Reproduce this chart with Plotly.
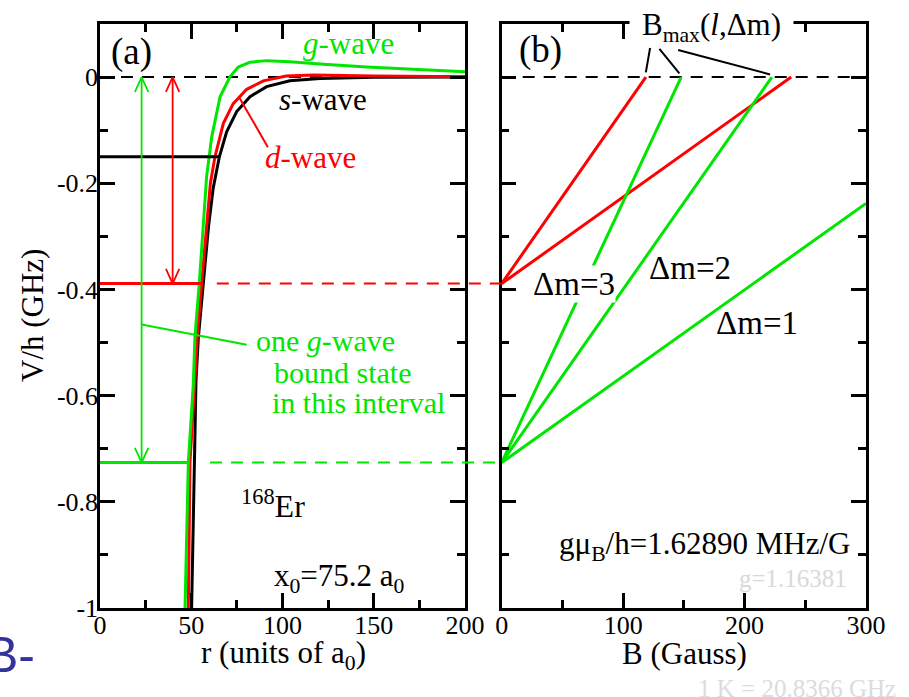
import plotly.graph_objects as go

W, H = 909, 697
SERIF = "Liberation Serif"
GREEN = "#00e600"
RED = "#ff0000"
BLACK = "#000000"

# ---------------- panel (a): potentials V(r) ----------------
r_s = [50.2, 51.3, 52.6, 53.9, 56.6, 59.5, 62.0, 65.4, 69.4, 74.9, 82.2, 91.3, 104.0, 120.5, 150.0, 200.0]
v_s = [-1.0, -0.80, -0.572, -0.49, -0.389, -0.28, -0.21, -0.15, -0.103, -0.065, -0.037, -0.018, -0.007, -0.0025, -0.0005, 0.0]

r_d = [48.4, 49.3, 52.0, 53.3, 55.7, 58.5, 60.5, 63.0, 67.6, 73.0, 80.4, 89.5, 102.0, 117.0, 150.0, 200.0]
v_d = [-1.0, -0.726, -0.572, -0.49, -0.389, -0.27, -0.20, -0.15, -0.087, -0.05, -0.023, -0.007, 0.002, 0.004, 0.002, 0.0005]

r_g = [46.6, 48.4, 51.1, 52.0, 54.4, 56.5, 58.4, 61.2, 65.8, 71.2, 75.8, 82.2, 91.3, 104.0, 120.5, 146.0, 200.0]
v_g = [-1.0, -0.726, -0.58, -0.49, -0.389, -0.28, -0.188, -0.113, -0.037, 0.0006, 0.019, 0.028, 0.031, 0.029, 0.0245, 0.019, 0.010]

# last bound levels (GHz) and where their solid segments meet the potential walls
level_s, level_d, level_g = -0.150, -0.389, -0.726
wall_s, wall_d, wall_g = 65.4, 55.7, 48.4
dash_start_d, dash_start_g = 64.0, 60.3
arrow_r_g, arrow_r_d = 22.8, 39.8

# ---------------- panel (b): Zeeman-shifted levels ----------------
bmax_red = [118.7, 238.4]      # d-wave level reaching threshold
bmax_green = [147.8, 222.5]    # g-wave level reaching threshold
green_dm1_end = (300.0, -0.238)

r_ticks = [0, 50, 100, 150, 200]
r_ticktext = ["0", "50", "100", "150", "200"]
b_ticks = [0, 100, 200, 300]
b_ticktext = ["0", "100", "200", "300"]
v_ticks = [0, -0.2, -0.4, -0.6, -0.8, -1.0]
v_ticktext = ["0", "-0.2", "-0.4", "-0.6", "-0.8", "-1"]

# layout geometry
dom_a = [100 / W, 465 / W]
dom_b = [501.7 / W, 866 / W]
dom_y = [1 - 608 / H, 1 - 24 / H]
R_RANGE, B_RANGE, V_RANGE = [0, 200], [0, 300], [-1.0, 0.1]

px_r = (R_RANGE[1] - R_RANGE[0]) / ((dom_a[1] - dom_a[0]) * W)
px_v = (V_RANGE[1] - V_RANGE[0]) / ((dom_y[1] - dom_y[0]) * H)

fig = go.Figure()


def line(x, y, color, width, xa="x", ya="y", dash=None):
    fig.add_trace(go.Scatter(x=x, y=y, mode="lines", xaxis=xa, yaxis=ya,
                             line=dict(color=color, width=width, dash=dash),
                             hoverinfo="skip", showlegend=False, cliponaxis=False))


DASH = "12px,9px"

# threshold lines
line(R_RANGE, [0, 0], BLACK, 2, dash=DASH)
line(B_RANGE, [0, 0], BLACK, 2, "x2", "y2", dash=DASH)

# potentials
line(r_s, v_s, BLACK, 3)
line(r_d, v_d, RED, 3)
line(r_g, v_g, GREEN, 3)

# bound levels
line([0, wall_s], [level_s, level_s], BLACK, 3)
line([0, wall_d], [level_d, level_d], RED, 3)
line([0, wall_g], [level_g, level_g], GREEN, 3)


def double_arrow(xr, y_top, y_bot, color):
    hw, hl = 6.7 * px_r, 14.7 * px_v
    line([xr, xr], [y_top, y_bot], color, 1.8)
    line([xr - hw, xr, xr + hw], [y_top - hl, y_top, y_top - hl], color, 1.8)
    line([xr - hw, xr, xr + hw], [y_bot + hl, y_bot, y_bot + hl], color, 1.8)


double_arrow(arrow_r_g, 0, level_g, GREEN)
double_arrow(arrow_r_d, 0, level_d, RED)

# label pointers
line([92.0, 76.2], [-0.132, -0.038], RED, 2)
line([arrow_r_g, 80.4], [-0.466, -0.504], GREEN, 2)

# Zeeman lines in panel (b)
for bm in bmax_red:
    line([0, bm], [level_d, 0], RED, 3, "x2", "y2")
for bm in bmax_green:
    line([0, bm], [level_g, 0], GREEN, 3, "x2", "y2")
line([0, green_dm1_end[0]], [level_g, green_dm1_end[1]], GREEN, 3, "x2", "y2")

# B_max pointers
line([122.2, bmax_red[0]], [0.055, 0.009], BLACK, 2, "x2", "y2")
line([129.9, bmax_green[0] - 1.5], [0.053, 0.007], BLACK, 2, "x2", "y2")
line([145.3, bmax_green[1] - 1.5], [0.051, 0.005], BLACK, 2, "x2", "y2")


# dashed continuation of the d- and g-wave levels across to panel (b)
def r_to_paper(r):
    return dom_a[0] + (r - R_RANGE[0]) / (R_RANGE[1] - R_RANGE[0]) * (dom_a[1] - dom_a[0])


for start, lev, col in [(dash_start_d, level_d, RED), (dash_start_g, level_g, GREEN)]:
    fig.add_shape(type="line", xref="paper", yref="y", x0=r_to_paper(start), x1=dom_b[0],
                  y0=lev, y1=lev, line=dict(color=col, width=2, dash=DASH), layer="above")


def text(s, x, y, size, color=BLACK, xref="x", yref="y", xanchor="center", **kw):
    fig.add_annotation(text=s, x=x, y=y, xref=xref, yref=yref, showarrow=False,
                       xanchor=xanchor, yanchor="middle",
                       font=dict(family=SERIF, size=size, color=color), **kw)


# panel (a) labels
text("(a)", 17, 0.047, 37)
text("<i>g</i>-wave", 136.4, 0.064, 31, GREEN)
text("<i>s</i>-wave", 122, -0.043, 31, BLACK)
text("<i>d</i>-wave", 115.6, -0.151, 31, RED)
text("one <i>g</i>-wave", 84.4, -0.496, 30, GREEN, xanchor="left")
text("bound state", 94.2, -0.557, 30, GREEN, xanchor="left")
text("in this interval", 93.2, -0.613, 30, GREEN, xanchor="left")
text("<sup>168</sup>Er", 94.8, -0.804, 32)
text("x<sub>0</sub>=75.2 a<sub>0</sub>", 131, -0.943, 31)

# panel (b) labels
text("(b)", 31.6, 0.051, 37, xref="x2", yref="y2")
text("B<sub>max</sub>(<i>l</i>,Δm)", 172.9, 0.094, 31, xref="x2", yref="y2",
     bgcolor="white", width=163, borderpad=0)
text("Δm=3", 59.2, -0.389, 33, xref="x2", yref="y2", bgcolor="white", borderpad=0)
text("Δm=2", 154.8, -0.360, 33, xref="x2", yref="y2")
text("Δm=1", 210, -0.464, 33, xref="x2", yref="y2")
text("gμ<sub>B</sub>/h=1.62890 MHz/G", 167, -0.883, 31, xref="x2", yref="y2")
text("g=1.16381", 239.5, -0.945, 25, "#d9d9d9", xref="x2", yref="y2")
text("1 K = 20.8366 GHz", 797 / W, 1 - 688 / H, 25, "#dcdcdc", xref="paper", yref="paper")

# axis titles
text("V/h (GHz)", 32 / W, 1 - 316 / H, 31, xref="paper", yref="paper", textangle=-90)
text("r (units of a<sub>0</sub>)", 283 / W, 1 - 655 / H, 31, xref="paper", yref="paper")
text("B (Gauss)", 684 / W, 1 - 653 / H, 31, xref="paper", yref="paper")

# slide header fragment
fig.add_annotation(text="B-", x=37 / W, y=1 - 655 / H, xref="paper", yref="paper",
                   showarrow=False, xanchor="right", yanchor="middle",
                   font=dict(family="Liberation Sans", size=50, color="#33339a"))

axis_common = dict(showline=True, linecolor=BLACK, linewidth=2.5, mirror="ticks",
                   ticks="inside", ticklen=15, tickwidth=2.5, tickcolor=BLACK,
                   showgrid=False, zeroline=False, automargin=False,
                   tickfont=dict(family=SERIF, size=26, color=BLACK))


def minor(step):
    return dict(dtick=step, tick0=0, ticks="inside", ticklen=8, tickwidth=2.5,
                tickcolor=BLACK, showgrid=False)


fig.update_layout(
    width=W, height=H, margin=dict(l=0, r=0, t=0, b=0, pad=0),
    paper_bgcolor="white", plot_bgcolor="white", showlegend=False,
    xaxis=dict(domain=dom_a, range=R_RANGE, tickvals=r_ticks, ticktext=r_ticktext,
               anchor="y", minor=minor(25), ticklabelstandoff=-8, **axis_common),
    yaxis=dict(domain=dom_y, range=V_RANGE, tickvals=v_ticks, ticktext=v_ticktext,
               anchor="x", minor=minor(0.1), ticklabelstandoff=-6, **axis_common),
    xaxis2=dict(domain=dom_b, range=B_RANGE, tickvals=b_ticks, ticktext=b_ticktext,
                anchor="y2", minor=minor(50), ticklabelstandoff=-8, **axis_common),
    yaxis2=dict(domain=dom_y, range=V_RANGE, tickvals=v_ticks, showticklabels=False,
                anchor="x2", minor=minor(0.1), **axis_common),
)

fig.write_html("out.html")
